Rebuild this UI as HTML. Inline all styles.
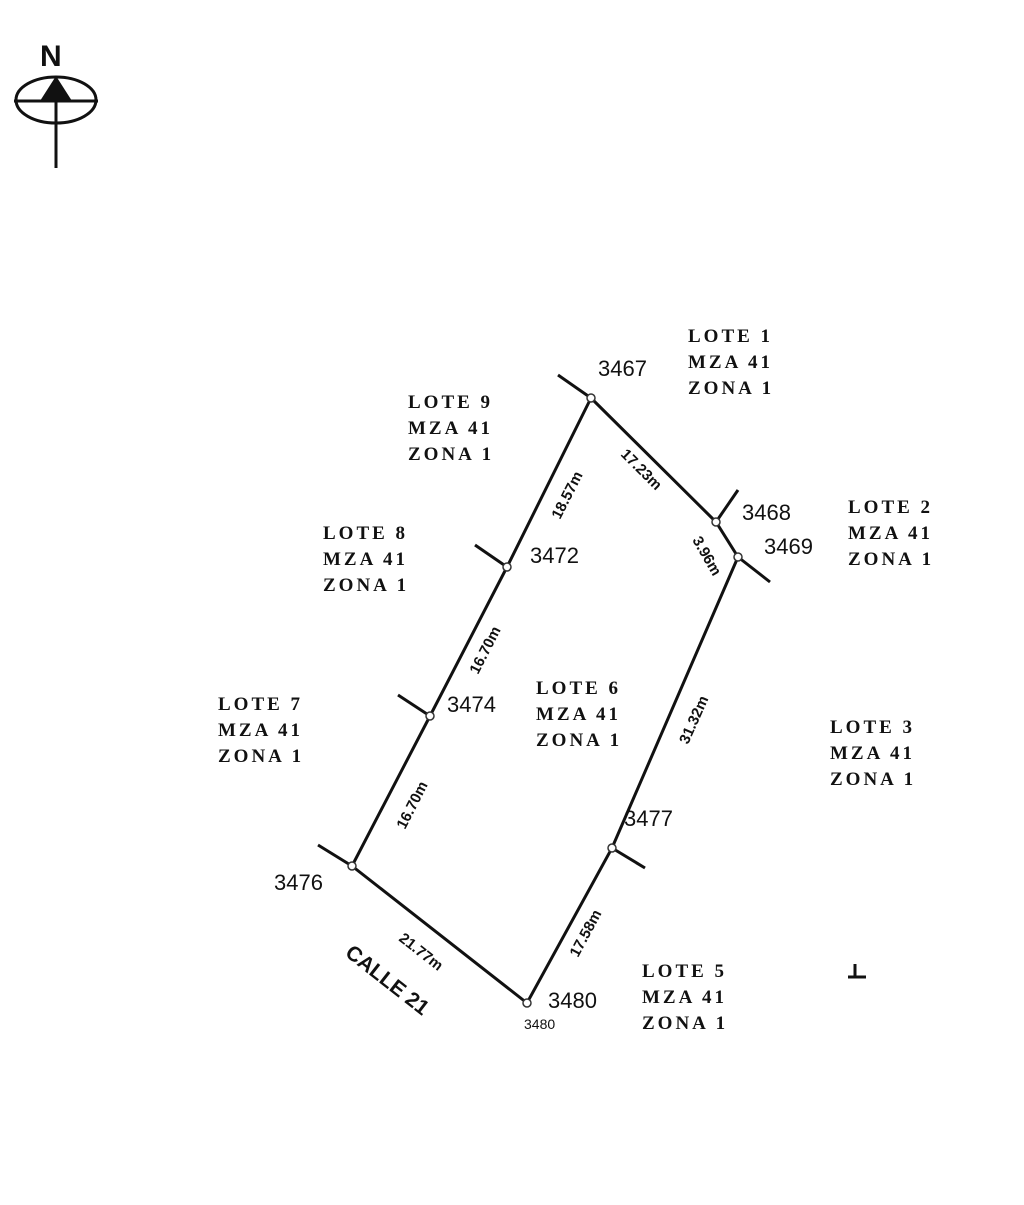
<!DOCTYPE html>
<html><head><meta charset="utf-8"><style>
html,body{margin:0;padding:0;background:#fff;}
svg text{font-family:"Liberation Sans",sans-serif;fill:#111;}
.l{font-family:"Liberation Serif",serif;font-weight:bold;font-size:19px;letter-spacing:3px;}
.n{font-size:22px;}
.d{font-size:15px;font-weight:bold;}
</style></head><body>
<svg width="1024" height="1200" viewBox="0 0 1024 1200" xmlns="http://www.w3.org/2000/svg">
<rect width="1024" height="1200" fill="#fff"/>
<text x="40" y="66" style="font-family:'Liberation Sans';font-weight:bold;font-size:30px">N</text>
<ellipse cx="56" cy="100" rx="40" ry="23" fill="none" stroke="#111" stroke-width="3"/>
<line x1="14" y1="101" x2="98" y2="101" stroke="#111" stroke-width="3"/>
<line x1="56" y1="78" x2="56" y2="168" stroke="#111" stroke-width="3"/>
<polygon points="56,76 40,101 72,101" fill="#111"/>
<g stroke="#111" stroke-width="3" fill="none">
<polyline points="591,398 716,522 738,557 612,848 527,1003 352,866 430,716 507,567 591,398"/>
<line x1="558" y1="375" x2="591" y2="398"/>
<line x1="738" y1="490" x2="716" y2="522"/>
<line x1="738" y1="557" x2="770" y2="582"/>
<line x1="475" y1="545" x2="507" y2="567"/>
<line x1="398" y1="695" x2="430" y2="716"/>
<line x1="318" y1="845" x2="352" y2="866"/>
<line x1="612" y1="848" x2="645" y2="868"/>
<line x1="848" y1="977" x2="866" y2="977"/><line x1="855" y1="964" x2="855" y2="977"/>
</g>
<g fill="#fff" stroke="#333" stroke-width="1.5">
<circle cx="591" cy="398" r="4"/><circle cx="716" cy="522" r="4"/><circle cx="738" cy="557" r="4"/>
<circle cx="612" cy="848" r="4"/><circle cx="527" cy="1003" r="4"/><circle cx="352" cy="866" r="4"/>
<circle cx="430" cy="716" r="4"/><circle cx="507" cy="567" r="4"/>
</g>
<text class="n" x="598" y="376">3467</text>
<text class="n" x="742" y="520">3468</text>
<text class="n" x="764" y="554">3469</text>
<text class="n" x="530" y="563">3472</text>
<text class="n" x="447" y="712">3474</text>
<text class="n" x="624" y="826">3477</text>
<text class="n" x="274" y="890">3476</text>
<text class="n" x="548" y="1008">3480</text>
<text x="524" y="1029" style="font-size:14px">3480</text>
<text class="d" transform="translate(560,520) rotate(-63)">18.57m</text>
<text class="d" transform="translate(620,455) rotate(45)">17.23m</text>
<text class="d" transform="translate(692,540) rotate(60)">3.96m</text>
<text class="d" transform="translate(478,675) rotate(-63)">16.70m</text>
<text class="d" transform="translate(405,830) rotate(-63)">16.70m</text>
<text class="d" transform="translate(688,745) rotate(-66)">31.32m</text>
<text class="d" transform="translate(578,958) rotate(-62)">17.58m</text>
<text class="d" transform="translate(398,940) rotate(38)">21.77m</text>
<text transform="translate(344,955) rotate(38)" style="font-size:21px;font-weight:bold">CALLE 21</text>
<g>
<text class="l" x="688" y="342">LOTE 1</text><text class="l" x="688" y="368">MZA 41</text><text class="l" x="688" y="394">ZONA 1</text>
<text class="l" x="408" y="408">LOTE 9</text><text class="l" x="408" y="434">MZA 41</text><text class="l" x="408" y="460">ZONA 1</text>
<text class="l" x="848" y="513">LOTE 2</text><text class="l" x="848" y="539">MZA 41</text><text class="l" x="848" y="565">ZONA 1</text>
<text class="l" x="323" y="539">LOTE 8</text><text class="l" x="323" y="565">MZA 41</text><text class="l" x="323" y="591">ZONA 1</text>
<text class="l" x="536" y="694">LOTE 6</text><text class="l" x="536" y="720">MZA 41</text><text class="l" x="536" y="746">ZONA 1</text>
<text class="l" x="218" y="710">LOTE 7</text><text class="l" x="218" y="736">MZA 41</text><text class="l" x="218" y="762">ZONA 1</text>
<text class="l" x="830" y="733">LOTE 3</text><text class="l" x="830" y="759">MZA 41</text><text class="l" x="830" y="785">ZONA 1</text>
<text class="l" x="642" y="977">LOTE 5</text><text class="l" x="642" y="1003">MZA 41</text><text class="l" x="642" y="1029">ZONA 1</text>
</g>
</svg>
</body></html>
